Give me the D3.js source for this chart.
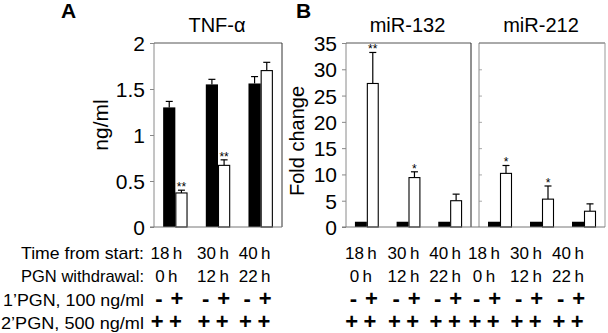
<!DOCTYPE html>
<html><head><meta charset="utf-8">
<script src="https://cdn.jsdelivr.net/npm/d3@7"></script>
<style>
body{margin:0;background:#fff;}
text{font-family:"Liberation Sans",Arial,Helvetica,sans-serif;fill:#000;}
</style></head>
<body><svg id="c" width="608" height="333"></svg>
<script>
// ---- data ----
const groups = ["18 h", "30 h", "40 h"];
const timeFromStart = ["18\u2009h", "30\u2009h", "40\u2009h"];
const withdrawal = ["0\u2009h", "12\u2009h", "22\u2009h"];
const pgn1 = ["- \u200a+", "- \u200a+", "- \u200a+"];
const pgn2 = ["+\u2005+", "+\u2005+", "+\u2005+"];
const rowLabels = ["Time from start:", "PGN withdrawal:", "1\u2019PGN, 100 ng/ml", "2\u2019PGN, 500 ng/ml"];

const tnfBlack = [1.30, 1.55, 1.56];
const tnfBlackErr = [0.065, 0.055, 0.075];
const tnfWhite = [0.37, 0.67, 1.70];
const tnfWhiteErr = [0.03, 0.06, 0.09];
const tnfStars = ["**", "**", ""];
const tnfTicks = [0, 0.5, 1, 1.5, 2];

const mir132Black = [1, 1, 1];
const mir132BlackErr = [0, 0, 0];
const mir132White = [27.3, 9.4, 5.0];
const mir132WhiteErr = [5.9, 1.1, 1.25];
const mir132Stars = ["**", "*", ""];

const mir212Black = [1, 1, 1];
const mir212BlackErr = [0, 0, 0];
const mir212White = [10.2, 5.3, 3.0];
const mir212WhiteErr = [1.5, 2.5, 1.4];
const mir212Stars = ["*", "*", ""];
const foldTicks = [0, 5, 10, 15, 20, 25, 30, 35];

// ---- drawing ----
const svg = d3.select("#c");
const plotTop = 43, plotBottom = 227;
const rowY = [259, 282, 306, 329];
const rowLabelWidths = [123, 123, 141, 143];

function panel(opts) {
  const g = svg.append("g");
  const x = d3.scaleBand().domain(d3.range(3)).range([opts.x0, opts.x1]);
  const xi = d3.scaleBand().domain(["b", "w"]).range([0, x.bandwidth()]).paddingOuter(0.75);
  const y = d3.scaleLinear().domain(opts.domain).range([plotBottom, plotTop]);

  if (opts.axis) {
    const ax = g.append("g").attr("transform", `translate(${opts.x0},0)`)
      .call(d3.axisLeft(y).tickValues(opts.ticks).tickSize(4).tickPadding(5).tickFormat(d3.format("")));
    ax.select(".domain").remove();
    ax.selectAll("line").attr("stroke", "#888");
    ax.selectAll("text").style("font-size", "21px").attr("dy", "0.36em");
  } else {
    g.append("g").attr("transform", `translate(${opts.x0},0)`)
      .call(d3.axisRight(y).tickValues(opts.ticks.slice(1, -1)).tickSize(3).tickFormat(""))
      .call(s => s.select(".domain").remove())
      .selectAll("line").attr("stroke", "#aaa");
  }
  g.append("line").attr("x1", opts.x0).attr("x2", opts.x0).attr("y1", plotTop).attr("y2", plotBottom).attr("stroke", "#8a8a8a");
  g.append("line").attr("x1", opts.x0).attr("x2", opts.x1).attr("y1", plotTop).attr("y2", plotTop).attr("stroke", "#555");
  g.append("line").attr("x1", opts.x1).attr("x2", opts.x1).attr("y1", plotTop).attr("y2", plotBottom).attr("stroke", opts.rightColor);

  const data = d3.range(3).map(i => ({
    i, b: opts.black[i], be: opts.blackErr[i], w: opts.white[i], we: opts.whiteErr[i], s: opts.stars[i]
  }));
  const capW = 7;
  const eb = g.append("g").attr("stroke", "#000").attr("stroke-width", 1.2);
  data.forEach(d => {
    [["b", d.b, d.be], ["w", d.w, d.we]].forEach(([k, v, e]) => {
      if (!e) return;
      const cx = x(d.i) + xi(k) + xi.bandwidth() / 2;
      eb.append("line").attr("x1", cx).attr("x2", cx).attr("y1", y(v)).attr("y2", y(v + e));
      eb.append("line").attr("x1", cx - capW / 2).attr("x2", cx + capW / 2).attr("y1", y(v + e)).attr("y2", y(v + e));
    });
  });
  g.selectAll(".bb").data(data).join("rect")
    .attr("x", d => x(d.i) + xi("b")).attr("width", xi.bandwidth())
    .attr("y", d => y(d.b)).attr("height", d => y(0) - y(d.b)).attr("fill", "#000");
  g.selectAll(".wb").data(data).join("rect")
    .attr("x", d => x(d.i) + xi("w") + 0.5).attr("width", xi.bandwidth() - 1)
    .attr("y", d => y(d.w)).attr("height", d => y(0) - y(d.w))
    .attr("fill", "#fff").attr("stroke", "#000").attr("stroke-width", 1.1);
  g.selectAll(".st").data(data).join("text")
    .attr("x", d => x(d.i) + xi("w") + xi.bandwidth() / 2)
    .attr("y", d => y(d.w + d.we) + 1)
    .attr("text-anchor", "middle").style("font-size", "12px")
    .text(d => d.s);

  g.append("text").attr("x", (opts.x0 + opts.x1) / 2 - 1).attr("y", 32)
    .attr("text-anchor", "middle").style("font-size", "20px").text(opts.title);

  const rows = [timeFromStart, withdrawal, pgn1, pgn2];
  rows.forEach((r, ri) => {
    g.selectAll(null).data(r).join("text")
      .attr("x", (d, i) => x(i) + x.bandwidth() / 2 + opts.shift[i] + (ri === 2 ? 3 : 0))
      .attr("y", rowY[ri]).attr("text-anchor", "middle")
      .style("font-size", ri >= 2 ? "22px" : "17px")
      .style("font-weight", ri >= 2 ? "bold" : "normal")
      .attr("xml:space", "preserve")
      .text(d => d);
  });
  return {x, y};
}

panel({x0: 154, x1: 282, domain: [0, 2], ticks: tnfTicks, axis: true, rightColor: "#333",
  black: tnfBlack, blackErr: tnfBlackErr, white: tnfWhite, whiteErr: tnfWhiteErr, stars: tnfStars,
  title: "TNF-\u03b1", shift: [-9, -5, -6]});
panel({x0: 346, x1: 471, domain: [0, 35], ticks: foldTicks, axis: true, rightColor: "#222",
  black: mir132Black, blackErr: mir132BlackErr, white: mir132White, whiteErr: mir132WhiteErr, stars: mir132Stars,
  title: "miR-132", shift: [-6, -5, -5]});
panel({x0: 479, x1: 605, domain: [0, 35], ticks: foldTicks, axis: false, rightColor: "#999",
  black: mir212Black, blackErr: mir212BlackErr, white: mir212White, whiteErr: mir212WhiteErr, stars: mir212Stars,
  title: "miR-212", shift: [-16, -16, -16]});

svg.append("line").attr("x1", 150).attr("x2", 282).attr("y1", plotBottom).attr("y2", plotBottom).attr("stroke", "#777");
svg.append("line").attr("x1", 342).attr("x2", 605).attr("y1", plotBottom).attr("y2", plotBottom).attr("stroke", "#777");

svg.selectAll(".rl").data(rowLabels).join("text")
  .attr("x", 144).attr("y", (d, i) => rowY[i]).attr("text-anchor", "end")
  .attr("textLength", (d, i) => rowLabelWidths[i]).attr("lengthAdjust", "spacingAndGlyphs")
  .style("font-size", "17px").text(d => d);

svg.append("text").attr("transform", "translate(108,125) rotate(-90)")
  .attr("text-anchor", "middle").style("font-size", "21px").text("ng/ml");
svg.append("text").attr("transform", "translate(304,141) rotate(-90)")
  .attr("text-anchor", "middle").style("font-size", "20px").text("Fold change");

svg.append("text").attr("x", 61).attr("y", 18).style("font-size", "21px").style("font-weight", "bold").text("A");
svg.append("text").attr("x", 296).attr("y", 18).style("font-size", "21px").style("font-weight", "bold").text("B");
</script></body></html>
